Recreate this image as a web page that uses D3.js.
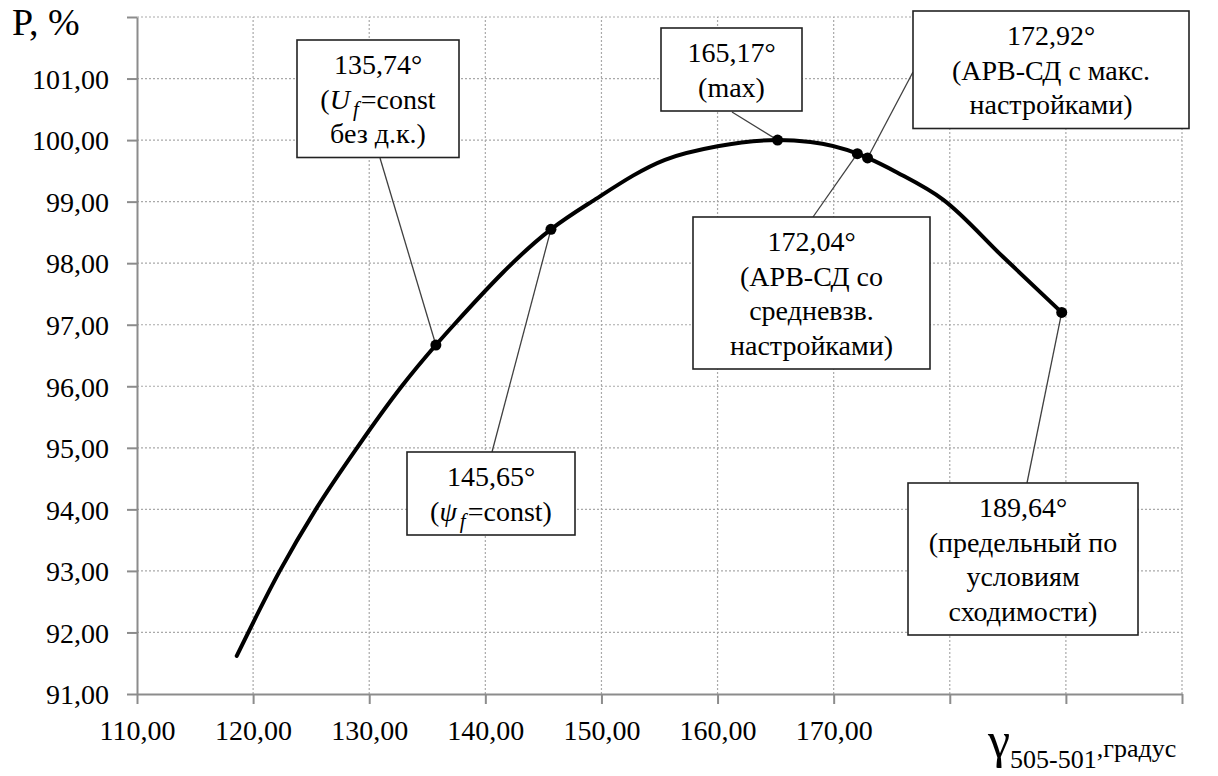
<!DOCTYPE html>
<html>
<head>
<meta charset="utf-8">
<script src="https://cdn.jsdelivr.net/npm/d3@7"></script>
<style>
  body { margin: 0; background: #fff; }
  svg text { font-family: 'Liberation Serif', 'Times New Roman', 'DejaVu Serif', serif; }
</style>
</head>
<body>
<svg id="chart" width="1218" height="776"></svg>
<script>
'use strict';

// curve P(gamma)
const angle = [118.59, 122.3, 125.4, 128.95, 132.8, 135.74, 137.3, 145.65, 149.16,
  155.47, 160.0, 165.17, 168.0, 172.04, 172.92, 175.5, 179.45, 184.6, 189.64];
const power = [91.62, 93.0, 94.0, 95.0, 96.0, 96.67, 97.0, 98.55, 99.0,
  99.68, 99.9, 100.0, 99.97, 99.78, 99.71, 99.47, 99.03, 98.1, 97.2];

// marked operating points
const markAngle = [135.74, 145.65, 165.17, 172.04, 172.92, 189.64];
const markPower = [96.67, 98.55, 100.0, 99.78, 99.71, 97.2];
// extra lines under the angle in each callout; [text, 'i'] italic, [text, 's'] italic subscript
const markNotes = [
  [['(', ['U', 'i'], ['f', 's'], '=const'], ['без д.к.)']],
  [['(', ['ψ', 'i'], ['f', 's'], '=const)']],
  [['(max)']],
  [['(АРВ-СД со'], ['средневзв.'], ['настройками)']],
  [['(АРВ-СД с макс.'], ['настройками)']],
  [['(предельный по'], ['условиям'], ['сходимости)']]
];

const xTicks = [110, 120, 130, 140, 150, 160, 170, 180, 190, 200];
const xLabelled = [110, 120, 130, 140, 150, 160, 170];
const yTicks = [91, 92, 93, 94, 95, 96, 97, 98, 99, 100, 101, 102];
const yLabelled = [91, 92, 93, 94, 95, 96, 97, 98, 99, 100, 101];

// callout boxes: left, top, width, leader start
const noteBoxes = [
  { x: 297, y: 40, w: 162, ax: 380, ay: 158 },
  { x: 407, y: 452, w: 168, ax: 492, ay: 452 },
  { x: 661, y: 28, w: 141, ax: 732, ay: 112 },
  { x: 693, y: 217, w: 237, ax: 813, ay: 217 },
  { x: 913, y: 11, w: 276, ax: 913, ay: 72 },
  { x: 908, y: 483, w: 230, ax: 1027, ay: 483 }
];

const serif = "'Liberation Serif', 'Times New Roman', 'DejaVu Serif', serif";
const margin = { top: 17, left: 137, right: 36, bottom: 82 };
const width = 1218, height = 776;
const lineStep = 34.5;
const fontSize = 28;

const ru = d3.formatLocale({ decimal: ',', thousands: ' ', grouping: [3], currency: ['', ''] });
const fmt = ru.format('.2f');

const svg = d3.select('#chart');

const xScale = d3.scaleLinear()
  .domain([110, 200])
  .range([margin.left, width - margin.right]);

const yScale = d3.scaleLinear()
  .domain([91, 102])
  .range([height - margin.bottom, margin.top]);

// grid
const grid = svg.append('g')
  .attr('stroke', '#a9a9a9')
  .attr('stroke-width', 1.2)
  .attr('stroke-dasharray', '2,2');

grid.selectAll('.vgrid')
  .data(xTicks.slice(1))
  .join('line')
  .attr('x1', d => xScale(d)).attr('x2', d => xScale(d))
  .attr('y1', yScale(91)).attr('y2', yScale(102));

grid.selectAll('.hgrid')
  .data(yTicks.slice(1))
  .join('line')
  .attr('x1', xScale(110)).attr('x2', xScale(200))
  .attr('y1', d => yScale(d)).attr('y2', d => yScale(d));

// axes
const xAxis = d3.axisBottom(xScale)
  .tickValues(xTicks)
  .tickSize(10)
  .tickSizeOuter(0)
  .tickPadding(16)
  .tickFormat(d => xLabelled.includes(d) ? fmt(d) : '');

const yAxis = d3.axisLeft(yScale)
  .tickValues(yTicks)
  .tickSize(10)
  .tickSizeOuter(0)
  .tickPadding(18)
  .tickFormat(d => yLabelled.includes(d) ? fmt(d) : '');

const gx = svg.append('g')
  .attr('transform', `translate(0, ${yScale(91)})`)
  .call(xAxis);

const gy = svg.append('g')
  .attr('transform', `translate(${xScale(110)}, 0)`)
  .call(yAxis);

[gx, gy].forEach(g => {
  g.attr('font-family', serif).attr('font-size', fontSize);
  g.selectAll('path, line').attr('stroke', '#8c8c8c').attr('stroke-width', 2);
  g.selectAll('text').attr('fill', '#000');
});
gy.selectAll('text').attr('dy', '0.35em');

// axis titles
svg.append('text')
  .attr('x', 12).attr('y', 35)
  .attr('font-size', 38)
  .text('P, %');

const xTitle = svg.append('text')
  .attr('x', 988).attr('y', 757);
xTitle.append('tspan').attr('font-size', 50).text('γ');
xTitle.append('tspan').attr('font-size', 26).attr('dy', 11).text('505-501');
xTitle.append('tspan').attr('font-size', 26).attr('dy', -11).text(',градус');

// curve
const points = angle.map((a, i) => [a, power[i]]);
const line = d3.line()
  .curve(d3.curveMonotoneX)
  .x(d => xScale(d[0]))
  .y(d => yScale(d[1]));

svg.append('path')
  .datum(points)
  .attr('d', line)
  .attr('fill', 'none')
  .attr('stroke', '#000')
  .attr('stroke-width', 4)
  .attr('stroke-linecap', 'round');

// leaders
svg.append('g')
  .selectAll('line')
  .data(markAngle)
  .join('line')
  .attr('x1', (d, i) => noteBoxes[i].ax)
  .attr('y1', (d, i) => noteBoxes[i].ay)
  .attr('x2', d => xScale(d))
  .attr('y2', (d, i) => yScale(markPower[i]))
  .attr('stroke', '#404040')
  .attr('stroke-width', 1.3);

svg.append('g')
  .selectAll('circle')
  .data(markAngle)
  .join('circle')
  .attr('cx', d => xScale(d))
  .attr('cy', (d, i) => yScale(markPower[i]))
  .attr('r', 5.5)
  .attr('fill', '#000');

// callouts
const notes = svg.append('g')
  .selectAll('g')
  .data(markAngle)
  .join('g');

notes.append('rect')
  .attr('x', (d, i) => noteBoxes[i].x)
  .attr('y', (d, i) => noteBoxes[i].y)
  .attr('width', (d, i) => noteBoxes[i].w)
  .attr('height', (d, i) => (markNotes[i].length + 1) * lineStep + 14)
  .attr('fill', '#fff')
  .attr('stroke', '#222')
  .attr('stroke-width', 1.6);

notes.each(function (d, i) {
  const box = noteBoxes[i];
  const cx = box.x + box.w / 2;
  const g = d3.select(this);
  const lines = [[fmt(d) + '°']].concat(markNotes[i]);
  lines.forEach((parts, k) => {
    const t = g.append('text')
      .attr('x', cx)
      .attr('y', box.y + 34 + k * lineStep)
      .attr('text-anchor', 'middle')
      .attr('font-size', fontSize);
    let shift = 0;
    parts.forEach(p => {
      if (typeof p === 'string') {
        t.append('tspan').attr('dy', -shift).attr('dx', shift ? 2 : 0).text(p);
        shift = 0;
      } else if (p[1] === 'i') {
        t.append('tspan').attr('font-style', 'italic').text(p[0]);
      } else {
        t.append('tspan').attr('font-style', 'italic').attr('font-size', 21)
          .attr('dx', 3).attr('dy', 7).text(p[0]);
        shift = 7;
      }
    });
  });
});
</script>
</body>
</html>
